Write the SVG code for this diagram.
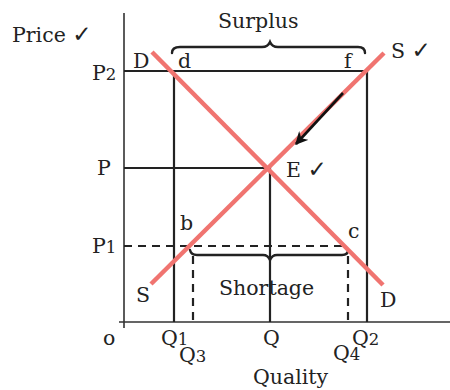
<svg xmlns="http://www.w3.org/2000/svg" width="450" height="390" viewBox="0 0 450 390">
<style>
text{font-family:"DejaVu Serif","Liberation Serif",serif;font-size:20.5px;fill:#222}
.ck{font-family:"DejaVu Sans",sans-serif;font-size:23px;font-weight:bold}
.sm{font-size:16.5px}
.ax{stroke:#333;stroke-width:1.6;fill:none}
.ln{stroke:#222;stroke-width:2.2;fill:none}
.ds{stroke:#222;stroke-width:2.2;fill:none;stroke-dasharray:8 6}
.cv{stroke:#f07470;stroke-width:4.5;fill:none}
.br{stroke:#222;stroke-width:2.4;fill:none;stroke-linecap:round}
</style>
<defs>
<marker id="ah" viewBox="0 0 10 10" refX="9" refY="5" markerWidth="5" markerHeight="5" orient="auto" markerUnits="strokeWidth">
<path d="M0,0 L10,5 L0,10 L3,5 Z" fill="#111"/>
</marker>
</defs>
<g id="connectors">
<path class="ax" d="M124,13 V328 M119,322 H450"/>
<path class="ln" d="M124,71 H367 V322 M174,71 V322 M124,168 H270 V322"/>
<path class="ds" d="M124,246 H347 M193,256 V322 M348,256 V322"/>
<path class="br" d="M172,53 Q172,47 180,47 L262,47 Q268,47 270,42 Q272,47 278,47 L358,47 Q365,47 365,53"/>
<path class="br" d="M190,250 Q191,255 197,255 L263,255 Q268,255 270,260 Q272,255 277,255 L342,255 Q348,255 348,250"/>
<path class="cv" d="M152,52 L383,285"/>
<path class="cv" d="M151,284 L384,53"/>
<path d="M343,93 L296,144" stroke="#111" stroke-width="2.6" fill="none" marker-end="url(#ah)"/>
</g>
<g id="axis-labels">
<text x="12" y="42">Price <tspan class="ck">✓</tspan></text>
<text x="218" y="28">Surplus</text>
<text x="253" y="384">Quality</text>
<text x="103" y="345">o</text>
</g>
<g id="price-labels">
<text x="92" y="80">P<tspan class="sm">2</tspan></text>
<text x="97" y="175">P</text>
<text x="92" y="253">P<tspan class="sm">1</tspan></text>
</g>
<g id="quantity-labels">
<text x="161" y="345">Q<tspan class="sm">1</tspan></text>
<text x="179" y="362">Q<tspan class="sm">3</tspan></text>
<text x="263" y="345">Q</text>
<text x="333" y="360">Q<tspan class="sm">4</tspan></text>
<text x="352" y="345">Q<tspan class="sm">2</tspan></text>
</g>
<g id="points">
<text x="133" y="68">D</text>
<text x="178" y="68">d</text>
<text x="344" y="68">f</text>
<text x="391" y="58">S <tspan class="ck">✓</tspan></text>
<text x="286" y="177">E <tspan class="ck">✓</tspan></text>
<text x="180" y="230">b</text>
<text x="348" y="238">c</text>
<text x="136" y="302">S</text>
<text x="380" y="307">D</text>
<text x="219" y="295">Shortage</text>
</g>
</svg>
